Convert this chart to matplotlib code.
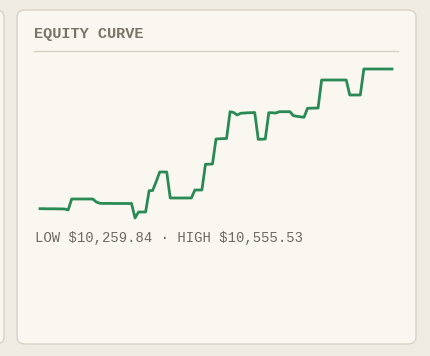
import numpy as np
import matplotlib.pyplot as plt
from matplotlib.patches import FancyBboxPatch
from matplotlib.lines import Line2D

# Valeurs du compte (une valeur par trade)
equity = [
    10278.30, 10278.30, 10278.10, 10278.10, 10278.10, 10277.90, 10277.90, 10277.70,
    10275.72, 10297.55, 10297.55, 10297.55, 10297.55, 10297.55, 10297.55, 10297.55,
    10291.59, 10289.01, 10288.81, 10288.81, 10288.81, 10288.62, 10288.62, 10288.62,
    10288.62, 10288.62, 10288.62, 10259.84, 10271.75, 10271.75, 10271.75, 10314.02,
    10314.41, 10331.88, 10351.13, 10351.13, 10351.13, 10299.53, 10299.53, 10299.53,
    10299.53, 10299.53, 10299.53, 10299.53, 10315.41, 10315.41, 10315.41, 10366.41,
    10366.61, 10367.00, 10416.62, 10417.01, 10417.41, 10417.61, 10470.79, 10469.20,
    10464.24, 10467.62, 10468.21, 10468.61, 10468.81, 10469.20, 10416.02, 10416.22,
    10416.62, 10468.81, 10468.61, 10468.21, 10470.79, 10470.79, 10470.79, 10470.79,
    10462.85, 10461.66, 10460.67, 10459.68, 10477.54, 10477.74, 10477.94, 10478.14,
    10533.70, 10533.70, 10533.70, 10533.70, 10533.70, 10533.70, 10533.70, 10533.70,
    10503.93, 10503.93, 10503.93, 10503.93, 10555.53, 10555.53, 10555.53, 10555.53,
    10555.53, 10555.53, 10555.53, 10555.53, 10555.53,
]
titre = "EQUITY CURVE"

W, H = 430, 356
fig = plt.figure(figsize=(W / 100, H / 100), dpi=100)
fig.patch.set_facecolor("#efebe3")

def fx(px):
    return px / W

def fy(py):
    return 1 - py / H

# Carte précédente (bord gauche) et carte principale
for x0, larg in [(-300, 304), (17, 399)]:
    fig.patches.append(FancyBboxPatch((fx(x0), fy(344)), fx(larg), fy(10) - fy(344),
                                      boxstyle="round,pad=0,rounding_size=0.02",
                                      transform=fig.transFigure, facecolor="#f9f7f0",
                                      edgecolor="#d9d3c7", linewidth=1, zorder=-10))

# Titre et séparateur
fig.text(fx(34), fy(34), titre, fontsize=11, fontweight="bold", family="Liberation Mono",
         color="#7a7468", va="center", ha="left")
fig.lines.append(Line2D([fx(34), fx(398)], [fy(51), fy(51)], transform=fig.transFigure,
                        color="#d6d0c2", linewidth=1))

# Courbe
ax = fig.add_axes([fx(40), fy(218), fx(392) - fx(40), fy(69) - fy(218)])
ax.set_zorder(5)
ax.patch.set_alpha(0)
x = np.arange(len(equity))
ax.plot(x, equity, color="#2a8a55", linewidth=2, clip_on=False)
ax.set_xlim(0, len(equity) - 1)
ax.set_ylim(min(equity), max(equity))
ax.axis("off")

bas = "LOW ${:,.2f} · HIGH ${:,.2f}".format(min(equity), max(equity))
fig.text(fx(35), fy(238), bas, fontsize=10, family="Liberation Mono",
         color="#6e6a62", va="center", ha="left", parse_math=False)

fig.savefig("out.png", dpi=100, facecolor=fig.get_facecolor())
